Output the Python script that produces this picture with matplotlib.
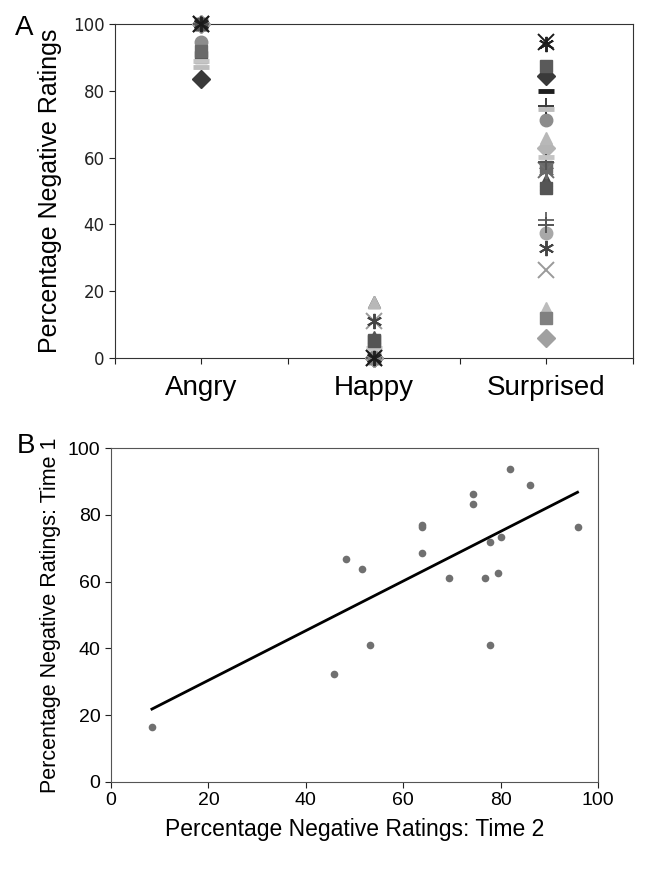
import numpy as np
import matplotlib
matplotlib.use("Agg")
import matplotlib.pyplot as plt

# --- Panel A: percentage negative ratings per face, per emotion ---
categories = ["Angry", "Happy", "Surprised"]
angry = [83.5, 90, 100, 100, 100, 94.5, 100, 100, 100, 92, 100, 100, 100,
         100, 100, 87, 100, 100, 100, 100, 100, 100, 100, 89, 100, 100]
happy = [0, 5.5, 16.7, 0, 0, 0, 0, 0, 0, 0, 16.7, 11, 11,
         0, 0, 0, 0, 5, 6.4, 0, 0, 0, 0, 3, 0, 0]
surprised = [84.5, 87.5, 53.3, 94.7, 94, 71.3, 75.5, 80, 62.9, 57.3, 65.8, 26.3, 32.8,
             37.3, 41.3, 74.5, 6, 50.8, 52, 56.3, 56, 58.8, 39.8, 60.3, 14.9, 11.9]

# marker / shade of each series (Excel-like cycling)
markers = ["D", "s", "^", "x", "ast", "o", "+", "_", "D", "s", "^", "x", "ast",
           "o", "+", "_", "D", "s", "^", "x", "ast", "+", "+", "_", "^", "s"]
shades = ["#3a3a3a", "#5a5a5a", "#4a4a4a", "#1a1a1a", "#222222", "#8c8c8c", "#3a3a3a",
          "#1e1e1e", "#b4b4b4", "#6a6a6a", "#b8b8b8", "#9a9a9a", "#444444", "#a8a8a8",
          "#6a6a6a", "#bdbdbd", "#a0a0a0", "#555555", "#555555", "#707070", "#6a6a6a",
          "#555555", "#555555", "#c4c4c4", "#bcbcbc", "#808080"]
top_series = [17, 4, 3]  # drawn last, in this order

# --- Panel B: time 2 vs time 1 ---
time2 = [8.4, 45.7, 48.3, 51.6, 53.1, 63.9, 63.9, 63.9, 69.5, 74.3,
         74.3, 76.9, 77.8, 77.8, 79.4, 80.0, 81.9, 86.1, 95.8]
time1 = [16.6, 32.2, 66.7, 63.9, 41.1, 77.1, 76.4, 68.5, 61.1, 86.1,
         83.2, 61.1, 71.8, 41.1, 62.5, 73.4, 93.7, 88.8, 76.4]

fig = plt.figure(figsize=(6.62, 8.71), dpi=100)
axA = fig.add_axes([0.1737, 0.589, 0.782, 0.3834])
axB = fig.add_axes([0.1677, 0.1022, 0.7356, 0.3834])

xpos = [1, 3, 5]
order = [i for i in range(len(angry)) if i not in top_series] + top_series
for z, i in enumerate(order):
    m = markers[i]
    kw = dict(color=shades[i], linestyle="none", markersize=9, clip_on=False, zorder=3 + z * 0.01)
    if m == "ast":
        kw.update(marker=(6, 2, 0), markeredgewidth=1.4, markersize=11)
    elif m in ("x", "+"):
        kw.update(marker=m, markeredgewidth=1.4, markersize=11)
    elif m == "_":
        kw.update(marker="_", markeredgewidth=3.5, markersize=11)
    else:
        kw.update(marker=m)
    axA.plot(xpos, [angry[i], happy[i], surprised[i]], **kw)

axA.set_xlim(0, 6)
axA.set_ylim(0, 100)
axA.set_xticks(range(7))
axA.set_xticklabels(["", "Angry", "", "Happy", "", "Surprised", ""],
                    fontsize=20, family="Liberation Sans")
axA.set_yticks(range(0, 101, 20))
axA.tick_params(axis="y", labelsize=12, length=4, direction="out", colors="#222222")
axA.tick_params(axis="x", length=4, direction="out", pad=8, colors="#222222")
for lab in axA.get_xticklabels():
    lab.set_color("black")
axA.set_ylabel("Percentage Negative Ratings", fontsize=18, family="Liberation Sans", labelpad=8)
for s in axA.spines.values():
    s.set_color("#333333")

# Panel B
axB.plot(time2, time1, "o", color="#707070", markersize=5.5, markeredgewidth=0)
slope, inter = np.polyfit(time2, time1, 1)
xl = np.array([min(time2), max(time2)])
axB.plot(xl, inter + slope * xl, color="black", lw=2)
axB.set_xlim(0, 100)
axB.set_ylim(0, 100)
axB.set_xticks(range(0, 101, 20))
axB.set_yticks(range(0, 101, 20))
axB.tick_params(labelsize=14, length=4, direction="out", colors="#222222")
for lab in axB.get_xticklabels() + axB.get_yticklabels():
    lab.set_family("Liberation Sans")
    lab.set_color("black")
axB.set_xlabel("Percentage Negative Ratings: Time 2", fontsize=16.5, family="Liberation Sans",
               labelpad=6)
axB.set_ylabel("Percentage Negative Ratings: Time 1", fontsize=15.5, family="Liberation Sans",
               labelpad=5)
for s in axB.spines.values():
    s.set_color("#555555")

fig.text(0.037, 0.983, "A", fontsize=20, family="Liberation Sans", va="top", ha="center")
fig.text(0.040, 0.503, "B", fontsize=20, family="Liberation Sans", va="top", ha="center")

fig.savefig("out.png", dpi=100)
